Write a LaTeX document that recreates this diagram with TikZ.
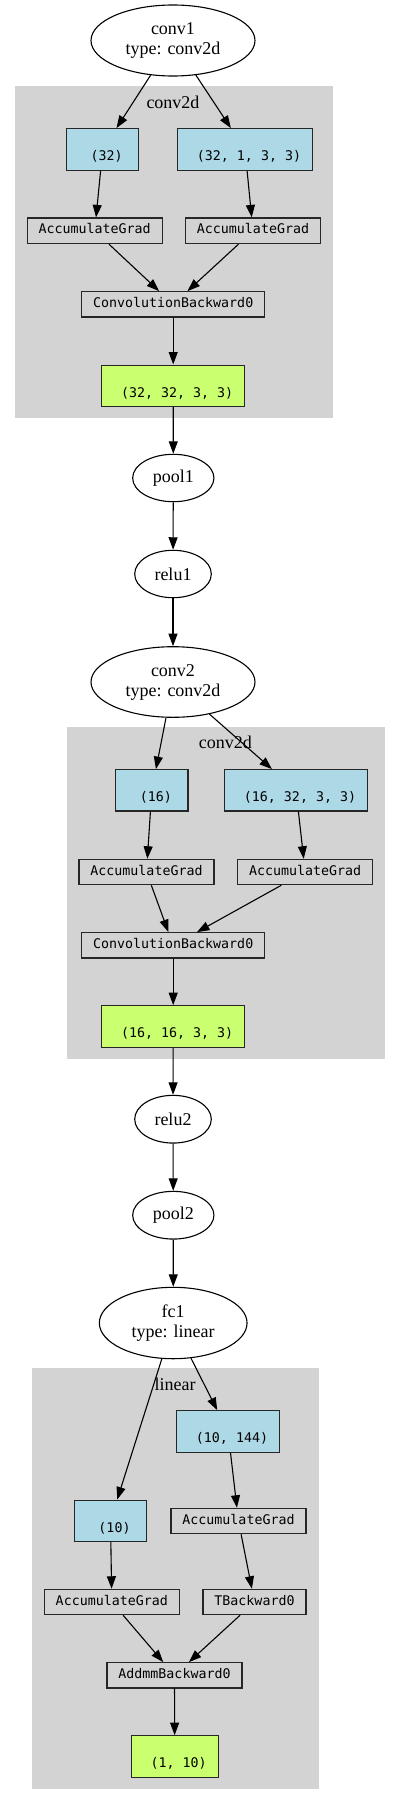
\documentclass[tikz,border=0pt]{standalone}
\usepackage{fontspec}
\setmainfont{Liberation Serif}
\newfontfamily\monofnt{DejaVu Sans Mono}
\usetikzlibrary{arrows.meta,shapes.geometric}
\definecolor{clustergray}{HTML}{D3D3D3}
\definecolor{paramblue}{HTML}{ADD8E6}
\definecolor{outgreen}{HTML}{CAFF70}
\tikzset{
  ell/.style={ellipse, draw=black, fill=white, line width=1.1pt, inner sep=0pt, align=center,
    font=\fontsize{18}{20}\selectfont},
  opbox/.style={rectangle, draw=black!85, fill=clustergray, line width=1.1pt, inner sep=0pt,
    font=\fontsize{13.3}{16}\monofnt, text height=9.7pt, text depth=3.5pt},
  parbox/.style={rectangle, draw=black!85, fill=paramblue, line width=1.1pt, inner sep=0pt},
  outbox/.style={rectangle, draw=black!85, fill=outgreen, line width=1.1pt, inner sep=0pt},
  boxtxt/.style={font=\fontsize{13.3}{16}\monofnt, inner sep=0pt, yshift=-7.3pt},
  clusterbg/.style={fill=clustergray, draw=none},
  clusterlbl/.style={font=\fontsize{18}{20}\selectfont, inner sep=0pt},
  edge/.style={line width=1.1pt, -{Triangle[length=12.5pt,width=9pt]}},
}
\begin{document}
\begin{tikzpicture}[x=1pt,y=-1pt]
\useasboundingbox (0,0) rectangle (400,1804);
% clusters
\fill[clusterbg] (14.7,86) rectangle (333,418);
\fill[clusterbg] (66.7,727) rectangle (385.3,1059);
\fill[clusterbg] (32,1368) rectangle (318.7,1789.3);
\node[clusterlbl] (lbl1) at (173,102) {conv2d};
\node[clusterlbl] (lbl2) at (225.3,742.7) {conv2d};
\node[clusterlbl] (lbl3) at (175,1384) {linear};
% block 1
\node[ell, minimum width=164pt, minimum height=71pt] (conv1) at (173,40.5) {conv1\\type: conv2d};
\node[parbox, minimum width=72pt, minimum height=41.7pt, label={[boxtxt]center:\hphantom{0}(32)}] (p32) at (102.7,149.5) {};
\node[parbox, minimum width=135pt, minimum height=41.7pt, label={[boxtxt]center:\hphantom{0}(32, 1, 3, 3)}] (p32b) at (245,149.5) {};
\node[opbox, minimum width=135.3pt, minimum height=25.7pt] (ag1) at (94.7,230.8) {AccumulateGrad};
\node[opbox, minimum width=135.3pt, minimum height=25.7pt] (ag2) at (253,230.8) {AccumulateGrad};
\node[opbox, minimum width=183pt, minimum height=25.3pt] (cb1) at (173.2,304.3) {ConvolutionBackward0};
\node[outbox, minimum width=143pt, minimum height=41.3pt, label={[boxtxt]center:\hphantom{0}(32, 32, 3, 3)}] (g1) at (173.2,385.7) {};
\node[ell, minimum width=81.3pt, minimum height=47.4pt] (pool1) at (173.3,478) {pool1};
\node[ell, minimum width=76.6pt, minimum height=47.4pt] (relu1) at (173,574) {relu1};
% block 2
\node[ell, minimum width=164pt, minimum height=70.6pt] (conv2) at (173,682) {conv2\\type: conv2d};
\node[parbox, minimum width=72.3pt, minimum height=41.3pt, label={[boxtxt]center:\hphantom{0}(16)}] (p16) at (151.8,790.3) {};
\node[parbox, minimum width=142.7pt, minimum height=41.3pt, label={[boxtxt]center:\hphantom{0}(16, 32, 3, 3)}] (p16b) at (296,790.3) {};
\node[opbox, minimum width=135pt, minimum height=25.4pt] (ag3) at (146.5,872) {AccumulateGrad};
\node[opbox, minimum width=135pt, minimum height=25.4pt] (ag4) at (305.2,872) {AccumulateGrad};
\node[opbox, minimum width=183pt, minimum height=25.3pt] (cb2) at (173.2,945.3) {ConvolutionBackward0};
\node[outbox, minimum width=143pt, minimum height=41.6pt, label={[boxtxt]center:\hphantom{0}(16, 16, 3, 3)}] (g2) at (173.2,1026.5) {};
\node[ell, minimum width=76.6pt, minimum height=47.7pt] (relu2) at (173,1119.2) {relu2};
\node[ell, minimum width=81.3pt, minimum height=47.7pt] (pool2) at (173.3,1215.2) {pool2};
% block 3
\node[ell, minimum width=147.7pt, minimum height=71.4pt] (fc1) at (173.2,1323) {fc1\\type: linear};
\node[parbox, minimum width=102.7pt, minimum height=41.6pt, label={[boxtxt]center:\hphantom{0}(10, 144)}] (p10b) at (228,1431.5) {};
\node[parbox, minimum width=72.3pt, minimum height=41.3pt, label={[boxtxt]center:\hphantom{0}(10)}] (p10) at (110.5,1520.7) {};
\node[opbox, minimum width=135pt, minimum height=25.4pt] (ag5) at (238.5,1521) {AccumulateGrad};
\node[opbox, minimum width=135pt, minimum height=25.4pt] (ag6) at (111.8,1602) {AccumulateGrad};
\node[opbox, minimum width=103pt, minimum height=25.4pt] (tb) at (254.5,1602) {TBackward0};
\node[opbox, minimum width=135pt, minimum height=25.3pt] (addmm) at (174.5,1675.3) {AddmmBackward0};
\node[outbox, minimum width=86.7pt, minimum height=41.6pt, label={[boxtxt]center:\hphantom{0}(1, 10)}] (g3) at (174.7,1756.5) {};
% edges
\draw[edge] (conv1) -- (p32);
\draw[edge] (conv1) -- (p32b);
\draw[edge] (p32) -- (ag1);
\draw[edge] (p32b) -- (ag2);
\draw[edge] (ag1) -- (cb1);
\draw[edge] (ag2) -- (cb1);
\draw[edge] (cb1) -- (g1);
\draw[edge] (g1) -- (pool1);
\draw[edge] (pool1) -- (relu1);
\draw[edge] (relu1) -- (conv2);
\draw[edge] (conv2) -- (p16);
\draw[edge] (conv2) -- (p16b);
\draw[edge] (p16) -- (ag3);
\draw[edge] (p16b) -- (ag4);
\draw[edge] (ag3) -- (cb2);
\draw[edge] (ag4) -- (cb2);
\draw[edge] (cb2) -- (g2);
\draw[edge] (g2) -- (relu2);
\draw[edge] (relu2) -- (pool2);
\draw[edge] (pool2) -- (fc1);
\draw[edge] (fc1) -- (p10);
\draw[edge] (fc1) -- (p10b);
\draw[edge] (p10b) -- (ag5);
\draw[edge] (p10) -- (ag6);
\draw[edge] (ag5) -- (tb);
\draw[edge] (ag6) -- (addmm);
\draw[edge] (tb) -- (addmm);
\draw[edge] (addmm) -- (g3);
\end{tikzpicture}
\end{document}
